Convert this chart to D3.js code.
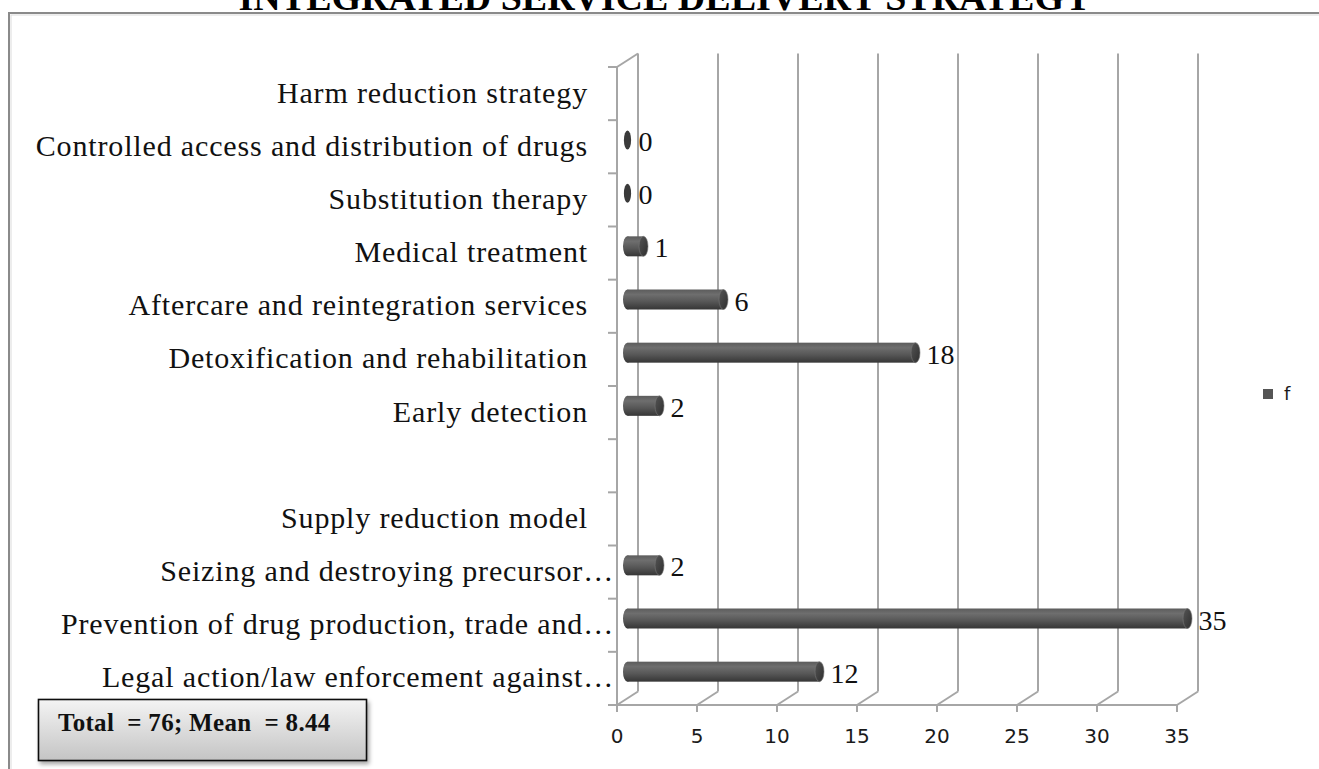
<!DOCTYPE html>
<html>
<head>
<meta charset="utf-8">
<script src="https://cdn.jsdelivr.net/npm/d3@7"></script>
<style>
  html, body { margin: 0; padding: 0; background: #fff; overflow: hidden; }
  svg { display: block; }
</style>
</head>
<body>
<svg id="chart" width="1319" height="769"></svg>
<script>
// data (top to bottom)
const categories = [
  "Harm reduction strategy",
  "Controlled access and distribution of drugs",
  "Substitution therapy",
  "Medical treatment",
  "Aftercare and reintegration services",
  "Detoxification and rehabilitation",
  "Early detection",
  "",
  "Supply reduction model",
  "Seizing and destroying precursor…",
  "Prevention of drug production, trade and…",
  "Legal action/law enforcement against…"
];
const values = [null, 0, 0, 1, 6, 18, 2, null, null, 2, 35, 12];
const xTicks = [0, 5, 10, 15, 20, 25, 30, 35];
const seriesName = "f";
const titleText = "INTEGRATED SERVICE DELIVERY STRATEGY";
const noteText = "Total  = 76; Mean  = 8.44";

const rows = categories.map((c, i) => ({ key: c || "blank-" + i, label: c, value: values[i] }));

const svg = d3.select("#chart");
const defs = svg.append("defs");

// depth of the 3d walls
const dx = 21, dy = -13.5;

const x = d3.scaleLinear().domain([0, 35]).range([617, 1177]);
const y = d3.scaleBand().domain(rows.map(d => d.key)).range([67, 705]).padding(0);
const bw = y.bandwidth();

// gradients
const barGrad = defs.append("linearGradient")
  .attr("id", "barGrad").attr("x1", 0).attr("y1", 0).attr("x2", 0).attr("y2", 1);
barGrad.append("stop").attr("offset", "0%").attr("stop-color", "#5c5c5c");
barGrad.append("stop").attr("offset", "25%").attr("stop-color", "#6e6e6e");
barGrad.append("stop").attr("offset", "60%").attr("stop-color", "#575757");
barGrad.append("stop").attr("offset", "100%").attr("stop-color", "#363636");

const capGrad = defs.append("linearGradient")
  .attr("id", "capGrad").attr("x1", 0).attr("y1", 0).attr("x2", 1).attr("y2", 1);
capGrad.append("stop").attr("offset", "0%").attr("stop-color", "#555");
capGrad.append("stop").attr("offset", "100%").attr("stop-color", "#2e2e2e");

const boxGrad = defs.append("linearGradient")
  .attr("id", "boxGrad").attr("x1", 0).attr("y1", 0).attr("x2", 0).attr("y2", 1);
boxGrad.append("stop").attr("offset", "0%").attr("stop-color", "#f4f4f4");
boxGrad.append("stop").attr("offset", "100%").attr("stop-color", "#c4c4c4");

const shadow = defs.append("filter").attr("id", "shadow")
  .attr("x", "-10%").attr("y", "-10%").attr("width", "130%").attr("height", "140%");
shadow.append("feDropShadow").attr("dx", 2).attr("dy", 3).attr("stdDeviation", 2)
  .attr("flood-color", "#000").attr("flood-opacity", 0.35);

// title (cut off at the top, as in the source picture)
svg.append("text")
  .attr("x", 665).attr("y", 10)
  .attr("text-anchor", "middle")
  .attr("font-family", "Liberation Serif, Times New Roman, serif")
  .attr("font-weight", "bold")
  .attr("font-size", 38)
  .text(titleText);

// outer frame
svg.append("rect")
  .attr("x", 9).attr("y", 13).attr("width", 1400).attr("height", 900)
  .attr("fill", "none").attr("stroke", "#8a8a8a").attr("stroke-width", 2);
svg.append("rect")
  .attr("x", 11).attr("y", 15).attr("width", 1400).attr("height", 900)
  .attr("fill", "none").attr("stroke", "#dcdcdc").attr("stroke-width", 1);

const grid = svg.append("g").attr("stroke", "#a6a6a6").attr("stroke-width", 2).attr("fill", "none");
const yTop = y.range()[0], yBot = y.range()[1];

// back wall gridlines
grid.selectAll("line.gv")
  .data(xTicks.slice(1))
  .join("line")
  .attr("class", "gv")
  .attr("x1", d => x(d) + dx).attr("x2", d => x(d) + dx)
  .attr("y1", yTop + dy).attr("y2", yBot + dy);

// floor
grid.append("line")
  .attr("x1", x(0)).attr("x2", x(35)).attr("y1", yBot).attr("y2", yBot);
grid.selectAll("line.fd")
  .data(xTicks)
  .join("line")
  .attr("class", "fd")
  .attr("x1", d => x(d)).attr("y1", yBot)
  .attr("x2", d => x(d) + dx).attr("y2", yBot + dy);
grid.selectAll("line.xt")
  .data(xTicks)
  .join("line")
  .attr("class", "xt")
  .attr("x1", d => x(d)).attr("x2", d => x(d))
  .attr("y1", yBot).attr("y2", yBot + 7);

// left wall
grid.append("line")
  .attr("x1", x(0)).attr("x2", x(0)).attr("y1", yTop).attr("y2", yBot);
grid.append("line")
  .attr("x1", x(0)).attr("y1", yTop).attr("x2", x(0) + dx).attr("y2", yTop + dy);
grid.selectAll("line.yt")
  .data(d3.range(rows.length + 1))
  .join("line")
  .attr("class", "yt")
  .attr("x1", x(0) - 9).attr("x2", x(0))
  .attr("y1", i => yTop + i * bw).attr("y2", i => yTop + i * bw);

// x tick labels
svg.append("g")
  .selectAll("text")
  .data(xTicks)
  .join("text")
  .attr("x", d => x(d)).attr("y", 743)
  .attr("text-anchor", "middle")
  .attr("font-family", "DejaVu Sans, Verdana, sans-serif")
  .attr("font-size", 20)
  .attr("fill", "#1a1a1a")
  .text(d => d);

// category labels
svg.append("g")
  .selectAll("text")
  .data(rows)
  .join("text")
  .attr("x", d => d.label.endsWith("…") ? 614 : 588)
  .attr("y", d => y(d.key) + bw / 2 + 9)
  .attr("text-anchor", "end")
  .attr("font-family", "Liberation Serif, Times New Roman, serif")
  .attr("font-size", 30)
  .attr("letter-spacing", 0.85)
  .attr("fill", "#111")
  .text(d => d.label);

// bars (cylinders at mid depth)
const rx = 4.5, ry = 10;
const bars = svg.append("g")
  .selectAll("g")
  .data(rows.filter(d => d.value !== null))
  .join("g")
  .attr("transform", d => `translate(0,${y(d.key) + bw / 2 + dy / 2})`);

bars.each(function(d) {
  const g = d3.select(this);
  const x0 = x(0) + dx / 2, x1 = x(d.value) + dx / 2;
  if (d.value === 0) {
    g.append("ellipse").attr("cx", x0).attr("cy", 0).attr("rx", 3.6).attr("ry", 9.5)
      .attr("fill", "#3a3a3a");
    return;
  }
  g.append("ellipse").attr("cx", x0).attr("cy", 0).attr("rx", rx).attr("ry", ry)
    .attr("fill", "url(#barGrad)");
  g.append("rect").attr("x", x0).attr("y", -ry).attr("width", x1 - x0).attr("height", 2 * ry)
    .attr("fill", "url(#barGrad)");
  g.append("ellipse").attr("cx", x1).attr("cy", 0).attr("rx", rx).attr("ry", ry)
    .attr("fill", "url(#capGrad)").attr("stroke", "#777").attr("stroke-width", 0.6);
});

// back line of left wall is visible across the short bars
grid.append("line")
  .attr("x1", x(0) + dx).attr("x2", x(0) + dx)
  .attr("y1", yTop + dy).attr("y2", yBot + dy);

// value labels
bars.append("text")
  .attr("x", d => x(d.value) + dx / 2 + 11)
  .attr("y", 11)
  .attr("font-family", "Liberation Serif, Times New Roman, serif")
  .attr("font-size", 28)
  .attr("fill", "#111")
  .text(d => d.value);

// legend
const legend = svg.append("g").attr("transform", "translate(1263,389)");
legend.append("rect").attr("width", 10).attr("height", 10).attr("fill", "#555");
legend.append("text").attr("x", 21).attr("y", 11)
  .attr("font-family", "DejaVu Sans, Verdana, sans-serif")
  .attr("font-size", 18).attr("fill", "#1a1a1a")
  .text(seriesName);

// note box
const note = svg.append("g");
note.append("rect")
  .attr("x", 38.5).attr("y", 699.5).attr("width", 328).attr("height", 61)
  .attr("fill", "url(#boxGrad)").attr("stroke", "#111").attr("stroke-width", 1.6)
  .attr("filter", "url(#shadow)");
note.append("text")
  .attr("x", 58).attr("y", 731)
  .attr("font-family", "Liberation Serif, Times New Roman, serif")
  .attr("font-weight", "bold")
  .attr("font-size", 25)
  .attr("letter-spacing", 0.3)
  .style("white-space", "pre")
  .attr("fill", "#111")
  .text(noteText);
</script>
</body>
</html>
